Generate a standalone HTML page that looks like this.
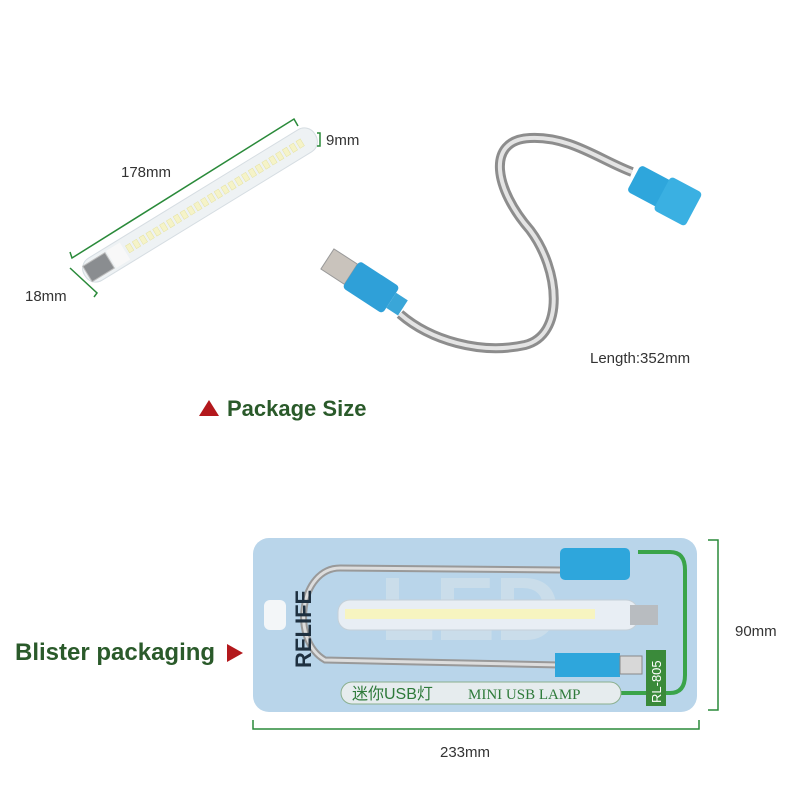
<!DOCTYPE html>
<html><head><meta charset="utf-8"><style>
body{margin:0;background:#fff;width:800px;height:800px;overflow:hidden;font-family:"Liberation Sans","Noto Sans CJK SC",sans-serif}
</style></head><body>
<svg width="800" height="800" viewBox="0 0 800 800" xmlns="http://www.w3.org/2000/svg">
<!-- top lamp -->
<g transform="translate(200,205) rotate(-31.5)">
<rect x="-135" y="-13" width="270" height="26" rx="12" fill="#eef2f4" stroke="#d6dde2"/>
<rect x="-132" y="-9" width="26" height="18" fill="#8a8d90" stroke="#bbb"/>
<rect x="-104" y="-10" width="16" height="20" fill="#f8f8f8"/>
<g fill="#f5f3c8" stroke="#e5e2a0" stroke-width="0.5">
<rect x="-85" y="-4" width="5" height="8"/><rect x="-77" y="-4" width="5" height="8"/><rect x="-69" y="-4" width="5" height="8"/><rect x="-61" y="-4" width="5" height="8"/><rect x="-53" y="-4" width="5" height="8"/><rect x="-45" y="-4" width="5" height="8"/><rect x="-37" y="-4" width="5" height="8"/><rect x="-29" y="-4" width="5" height="8"/><rect x="-21" y="-4" width="5" height="8"/><rect x="-13" y="-4" width="5" height="8"/><rect x="-5" y="-4" width="5" height="8"/><rect x="3" y="-4" width="5" height="8"/><rect x="11" y="-4" width="5" height="8"/><rect x="19" y="-4" width="5" height="8"/><rect x="27" y="-4" width="5" height="8"/><rect x="35" y="-4" width="5" height="8"/><rect x="43" y="-4" width="5" height="8"/><rect x="51" y="-4" width="5" height="8"/><rect x="59" y="-4" width="5" height="8"/><rect x="67" y="-4" width="5" height="8"/><rect x="75" y="-4" width="5" height="8"/><rect x="83" y="-4" width="5" height="8"/><rect x="91" y="-4" width="5" height="8"/><rect x="99" y="-4" width="5" height="8"/><rect x="107" y="-4" width="5" height="8"/><rect x="115" y="-4" width="5" height="8"/>
</g></g>
<g stroke="#2a8a3a" stroke-width="1.5" fill="none">
<polyline points="70,252 72,258 294,119 298,126"/>
<polyline points="70,268 97,293 94,297"/>
<polyline points="317,133 320,133 320,146 317,146"/>
</g>
<g fill="#333" font-size="15">
<text x="121" y="177">178mm</text><text x="25" y="301">18mm</text><text x="326" y="145">9mm</text><text x="590" y="363">Length:352mm</text>
</g>
<!-- gooseneck -->
<path d="M400,314 C430,340 480,355 525,345 C565,335 560,270 530,230 C495,190 485,140 530,138 C570,136 600,160 632,172" stroke="#8d8d8d" stroke-width="10" fill="none"/>
<path d="M400,314 C430,340 480,355 525,345 C565,335 560,270 530,230 C495,190 485,140 530,138 C570,136 600,160 632,172" stroke="#e4e4e4" stroke-width="4" fill="none"/>
<g transform="translate(366,284) rotate(33)">
<rect x="-46" y="-12" width="28" height="24" fill="#c9c3bc" stroke="#999"/>
<rect x="-18" y="-16" width="48" height="32" rx="4" fill="#2fa0d8"/>
<rect x="30" y="-9" width="14" height="18" fill="#3aa6d8"/>
</g>
<g transform="translate(662,193) rotate(28)">
<rect x="-32" y="-15" width="40" height="30" rx="4" fill="#2ea6dc"/>
<rect x="0" y="-19" width="36" height="38" rx="4" fill="#3ab0e2"/>
</g>
<!-- Package size -->
<polygon points="199,416 209,400 219,416" fill="#b3181c"/>
<text x="227" y="416" font-size="22" font-weight="bold" fill="#2a5a2a">Package Size</text>
<!-- blister card -->
<rect x="253" y="538" width="444" height="174" rx="16" fill="#b9d5ea"/>
<text x="380" y="640" font-size="90" font-weight="bold" fill="#cfe0ea" opacity="0.8">LED</text>
<path d="M560,570 L340,568 C300,568 290,640 325,660 L560,665" stroke="#999" stroke-width="7" fill="none"/>
<path d="M560,570 L340,568 C300,568 290,640 325,660 L560,665" stroke="#ddd" stroke-width="3" fill="none"/>
<rect x="560" y="548" width="70" height="32" rx="5" fill="#2ea6dc"/>
<rect x="555" y="653" width="65" height="24" fill="#2ea6dc"/><rect x="620" y="656" width="22" height="18" fill="#d8d8d8" stroke="#888"/>
<rect x="338" y="600" width="300" height="30" rx="12" fill="#e8eef4" stroke="#c5d0d8"/>
<g fill="#f7f4c0"><rect x="345" y="609" width="250" height="10"/></g>
<rect x="630" y="605" width="28" height="20" fill="#b8bcc0"/>
<path d="M638,552 L670,552 Q685,552 685,570 L685,675 Q685,693 670,693 L620,693" stroke="#3aa44a" stroke-width="4" fill="none"/>
<rect x="646" y="650" width="20" height="56" fill="#3a8a3a"/>
<text transform="translate(661,703) rotate(-90)" font-size="13" fill="#fff">RL-805</text>
<rect x="341" y="682" width="280" height="22" rx="11" fill="#e6ecee" stroke="#8bb08f"/>
<text x="352" y="699" font-size="16" fill="#2e7a3a">迷你USB灯</text>
<text x="468" y="699" font-size="15" font-family="Liberation Serif,serif" fill="#2e7a3a">MINI USB LAMP</text>
<text transform="translate(311,668) rotate(-90)" font-size="22" font-weight="bold" fill="#1e3040">RELIFE</text>
<rect x="264" y="600" width="22" height="30" rx="6" fill="#f3f6f8"/>
<g stroke="#2a8a3a" stroke-width="1.5" fill="none">
<polyline points="253,720 253,729 699,729 699,720"/>
<polyline points="708,540 718,540 718,710 708,710"/>
</g>
<text x="440" y="757" font-size="15" fill="#333">233mm</text>
<text x="735" y="636" font-size="15" fill="#333">90mm</text>
<text x="15" y="660" font-size="24" font-weight="bold" fill="#2a5a2a">Blister packaging</text>
<polygon points="227,644 243,653 227,662" fill="#b3181c"/>
</svg>
</body></html>
